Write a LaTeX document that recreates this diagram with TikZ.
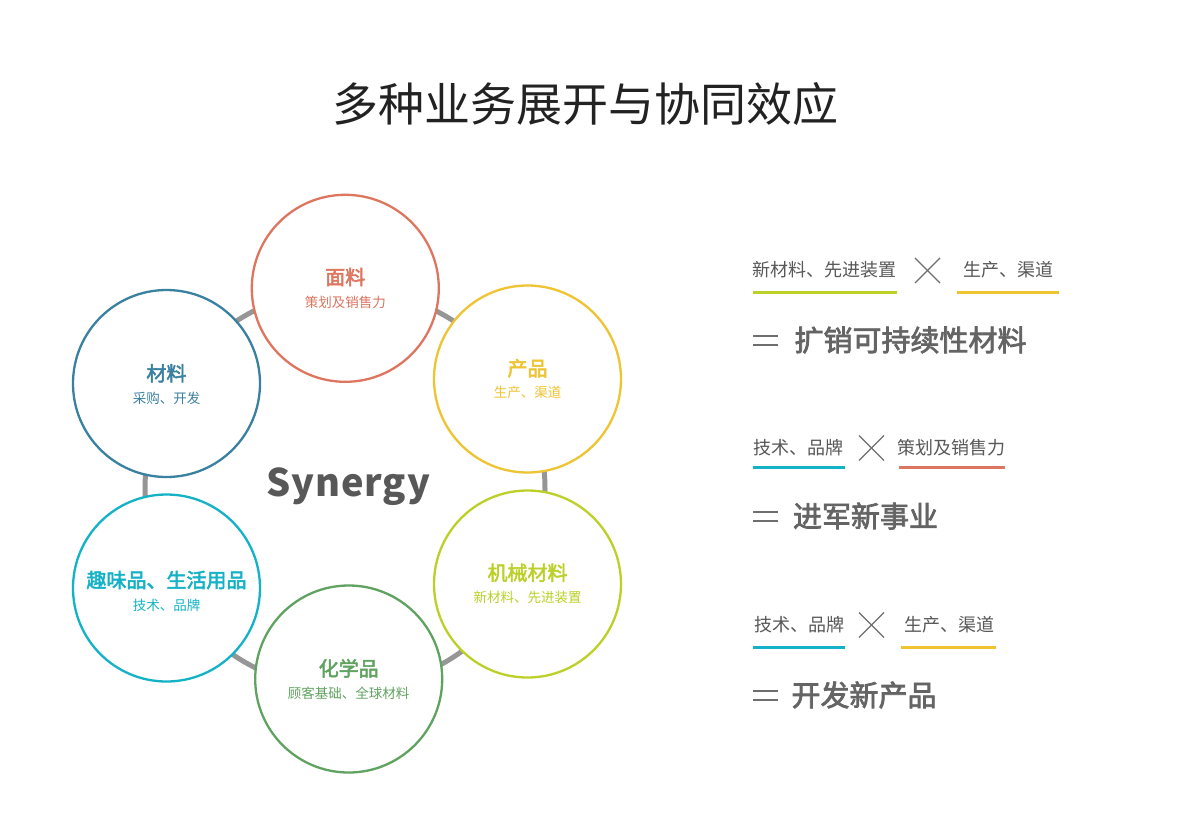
\documentclass[tikz,border=0pt]{standalone}
\usepackage{fontspec}
\setmainfont{Noto Sans CJK SC}
\newfontfamily\synfont[LetterSpace=2.5]{Noto Sans CJK SC}
\newfontfamily\medfont[FakeBold=2.5]{Noto Sans CJK SC}
\definecolor{cred}{RGB}{222,117,95}
\definecolor{cyellow}{RGB}{238,196,50}
\definecolor{clime}{RGB}{188,208,40}
\definecolor{cgreen}{RGB}{96,162,96}
\definecolor{ccyan}{RGB}{20,178,198}
\definecolor{cblue}{RGB}{58,128,160}
\definecolor{ringgray}{RGB}{150,150,150}
\definecolor{txtgray}{RGB}{88,88,88}
\definecolor{resgray}{RGB}{100,100,100}
\definecolor{signgray}{RGB}{110,110,110}
\definecolor{titleblack}{RGB}{34,34,34}
\tikzset{
  bubble/.style={circle, draw=#1, line width=2.3pt, fill=white, minimum size=187pt, inner sep=0pt},
  btitle/.style={text=#1, inner sep=0pt, font=\medfont\fontsize{20}{24}\selectfont},
  bsub/.style={text=#1, inner sep=0pt, font=\fontsize{13.5}{16}\selectfont},
  tag/.style={text=txtgray, inner sep=0pt, font=\fontsize{18}{22}\selectfont},
  result/.style={text=resgray, inner sep=0pt, font=\medfont\fontsize{29}{34}\selectfont},
  uline/.style={draw=#1, line width=3pt},
  crossline/.style={draw=signgray, line width=1.3pt},
  eqline/.style={draw=signgray, line width=2pt},
}
\begin{document}
\begin{tikzpicture}[x=1pt,y=-1pt]
\useasboundingbox (0,0) rectangle (1200,817);
\fill[white] (0,0) rectangle (1200,817);

% title
\node[inner sep=0pt, font=\fontsize{46}{54}\selectfont, text=titleblack] (title) at (585,104) {多种业务展开与协同效应};

% ring behind circles
\coordinate (ringc) at (345,489);
\draw[ringgray, line width=5pt] (ringc) circle[radius=200];

% circles
\node[bubble=cred]    (mianliao) at (345.3,288.3) {};
\node[bubble=cyellow] (chanpin)  at (527.5,379)   {};
\node[bubble=clime]   (jixie)    at (527.5,584)   {};
\node[bubble=cgreen]  (huaxue)   at (348.7,679)   {};
\node[bubble=ccyan]   (quwei)    at (166.5,588)   {};
\node[bubble=cblue]   (cailiao)  at (166.5,383.5) {};

% circle texts
\node[btitle=cred]    (t1) at (345.3,277)   {面料};
\node[bsub=cred]      (s1) at (345.3,302.3) {策划及销售力};
\node[btitle=cyellow] (t2) at (527.5,368.3) {产品};
\node[bsub=cyellow]   (s2) at (527.5,392.3) {生产、渠道};
\node[btitle=clime]   (t3) at (527.5,572.7) {机械材料};
\node[bsub=clime]     (s3) at (527.5,597.3) {新材料、先进装置};
\node[btitle=cgreen]  (t4) at (348.7,668.3) {化学品};
\node[bsub=cgreen]    (s4) at (348.7,693.3) {顾客基础、全球材料};
\node[btitle=ccyan]   (t5) at (166.5,580)   {趣味品、生活用品};
\node[bsub=ccyan]     (s5) at (166.5,605)   {技术、品牌};
\node[btitle=cblue]   (t6) at (166.5,373.3) {材料};
\node[bsub=cblue]     (s6) at (166.5,398)   {采购、开发};

% Synergy
\node[anchor=base, inner sep=0pt, text=txtgray, font=\synfont\fontsize{38}{44}\selectfont\bfseries] (syn) at (348.3,496.7) {Synergy};

% right panel row 1
\node[tag] (r1a) at (824,270) {新材料、先进装置};
\node[tag] (r1b) at (1008,270) {生产、渠道};
\coordinate (u1a1) at (753,292); \coordinate (u1a2) at (897,292);
\coordinate (u1b1) at (957,292); \coordinate (u1b2) at (1059,292);
\draw[uline=clime] (u1a1) -- (u1a2);
\draw[uline=cyellow] (u1b1) -- (u1b2);
\coordinate (x1) at (927.5,270.5);
\draw[crossline] ([shift={(-12.5,-12.5)}]x1) -- ([shift={(12.5,12.5)}]x1);
\draw[crossline] ([shift={(-12.5,12.5)}]x1) -- ([shift={(12.5,-12.5)}]x1);
\coordinate (e1) at (753,340);
\draw[eqline] ([yshift=-4.5pt]e1) -- ++(25,0);
\draw[eqline] ([yshift=4.5pt]e1) -- ++(25,0);
\node[result] (res1) at (910.5,340) {扩销可持续性材料};

% row 2
\node[tag] (r2a) at (798,448) {技术、品牌};
\node[tag] (r2b) at (951.5,448) {策划及销售力};
\coordinate (u2a1) at (753,467); \coordinate (u2a2) at (845,467);
\coordinate (u2b1) at (899,467); \coordinate (u2b2) at (1005,467);
\draw[uline=ccyan] (u2a1) -- (u2a2);
\draw[uline=cred] (u2b1) -- (u2b2);
\coordinate (x2) at (871.5,448);
\draw[crossline] ([shift={(-12.5,-12.5)}]x2) -- ([shift={(12.5,12.5)}]x2);
\draw[crossline] ([shift={(-12.5,12.5)}]x2) -- ([shift={(12.5,-12.5)}]x2);
\coordinate (e2) at (753,516);
\draw[eqline] ([yshift=-4.5pt]e2) -- ++(25,0);
\draw[eqline] ([yshift=4.5pt]e2) -- ++(25,0);
\node[result] (res2) at (865.5,516) {进军新事业};

% row 3
\node[tag] (r3a) at (799,625) {技术、品牌};
\node[tag] (r3b) at (949,625) {生产、渠道};
\coordinate (u3a1) at (753,647); \coordinate (u3a2) at (845,647);
\coordinate (u3b1) at (901,647); \coordinate (u3b2) at (996,647);
\draw[uline=ccyan] (u3a1) -- (u3a2);
\draw[uline=cyellow] (u3b1) -- (u3b2);
\coordinate (x3) at (871.5,625);
\draw[crossline] ([shift={(-12.5,-12.5)}]x3) -- ([shift={(12.5,12.5)}]x3);
\draw[crossline] ([shift={(-12.5,12.5)}]x3) -- ([shift={(12.5,-12.5)}]x3);
\coordinate (e3) at (753,695);
\draw[eqline] ([yshift=-4.5pt]e3) -- ++(25,0);
\draw[eqline] ([yshift=4.5pt]e3) -- ++(25,0);
\node[result] (res3) at (864,695) {开发新产品};
\end{tikzpicture}
\end{document}
